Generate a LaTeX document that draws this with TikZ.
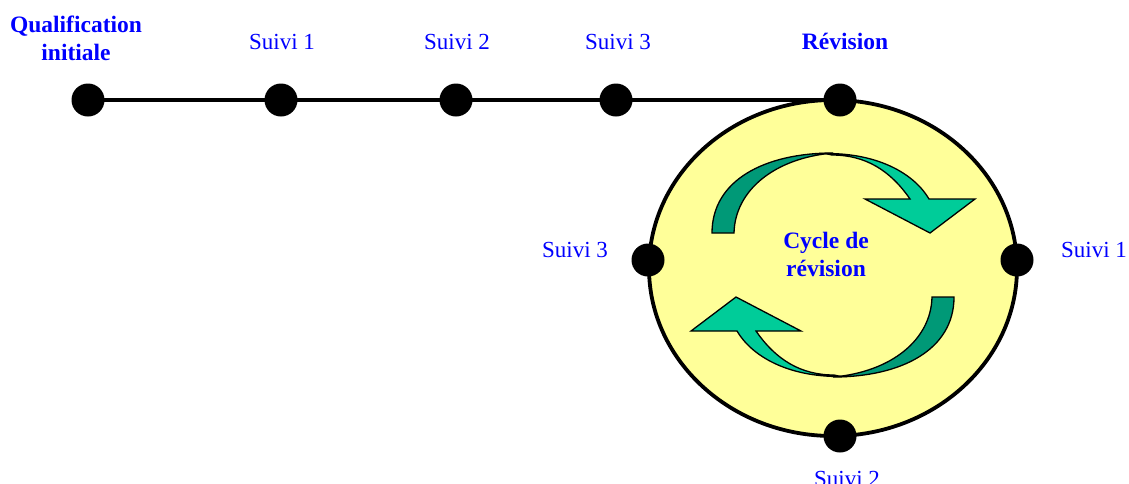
\documentclass[tikz,border=0pt]{standalone}
\usepackage{fontspec}
\setmainfont{Liberation Serif}
\usetikzlibrary{shapes.geometric}
\definecolor{cyclefill}{HTML}{FFFF99}
\definecolor{arrowlight}{HTML}{00CC99}
\definecolor{arrowdark}{HTML}{009977}
\definecolor{labelblue}{HTML}{0000FF}
\tikzset{
  milestone/.style={circle,fill=black,minimum size=33pt,inner sep=0pt},
  lbl/.style={text=labelblue,font=\fontsize{23}{27}\selectfont,inner sep=0pt,anchor=base},
  blbl/.style={lbl,font=\fontsize{23.5}{28}\selectfont\bfseries,align=center},
  cycleshape/.style={ellipse,draw=black,line width=3.8pt,fill=cyclefill,
    minimum width=368pt,minimum height=336pt,inner sep=0pt},
  timeline/.style={line width=3.5pt},
  arrowpart/.style={draw=black,line width=1.3pt,line join=miter}
}
% one curved arrow of the cycle (upper one); the lower one is the same turned half round
\newcommand{\cyclearrow}{%
  \fill[arrowlight,arrowpart]
    (825,153.5) .. controls (880,153) and (915,175) .. (929,199)
    -- (975,199) -- (930,233) -- (865,199) -- (910,199)
    .. controls (890,170) and (865,155) .. (832,155) -- cycle;
  \fill[arrowdark,arrowpart]
    (712,233) .. controls (712,180) and (765,153) .. (833,153)
    .. controls (775,158) and (735,190) .. (734,233) -- cycle;
}
\begin{document}
\begin{tikzpicture}[x=1pt,y=-1pt]
\useasboundingbox (0,0) rectangle (1129,483);

% the revision cycle
\node[cycleshape] (cycle) at (833,268) {};
\cyclearrow
\begin{scope}[rotate around={180:(833,265)}]
  \cyclearrow
\end{scope}

% milestones on the time line
\coordinate (pq) at (88,100);
\coordinate (p1) at (281,100);
\coordinate (p2) at (456,100);
\coordinate (p3) at (616,100);
\coordinate (pr) at (840,100);
\draw[timeline] (pq) -- (pr);
\node[milestone] (q) at (pq) {};
\node[milestone] (s1) at (p1) {};
\node[milestone] (s2) at (p2) {};
\node[milestone] (s3) at (p3) {};
\node[milestone] (rev) at (pr) {};

% milestones on the cycle
\node[milestone] (c1) at (1017,260) {};
\node[milestone] (c2) at (840,436) {};
\node[milestone] (c3) at (648,260) {};

% labels
\node[blbl,anchor=north] (tq) at (76,16) {Qualification\\initiale};
\node[lbl] (t1) at (282,49) {Suivi 1};
\node[lbl] (t2) at (457,49) {Suivi 2};
\node[lbl] (t3) at (618,49) {Suivi 3};
\node[blbl] (tr) at (845,49) {Révision};
\node[lbl] (tc3) at (575,257) {Suivi 3};
\node[lbl] (tc1) at (1094,257) {Suivi 1};
\node[lbl] (tc2) at (847,486) {Suivi 2};
\node[blbl,anchor=north] (tcy) at (826,232) {Cycle de\\révision};
\end{tikzpicture}
\end{document}
